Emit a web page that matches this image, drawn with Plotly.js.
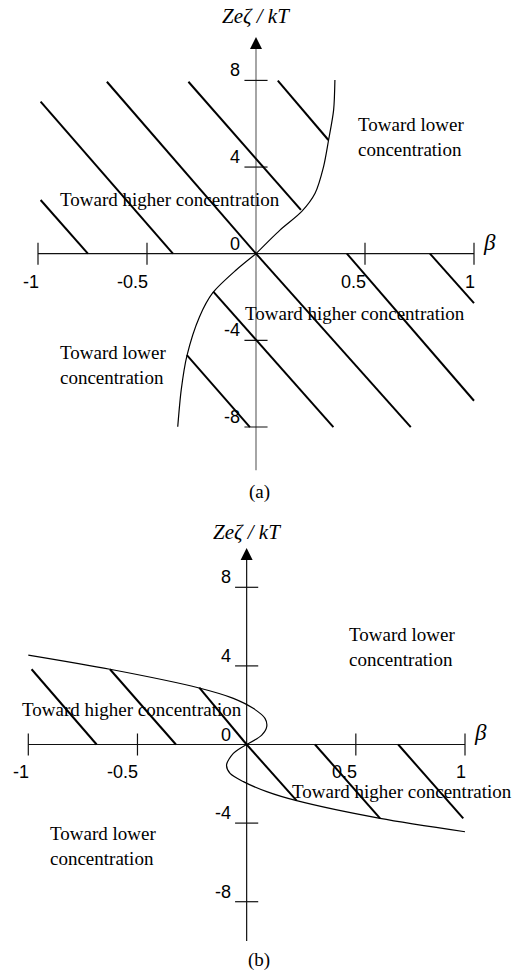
<!DOCTYPE html>
<html>
<head>
<meta charset="utf-8">
<script src="https://cdn.plot.ly/plotly-3.0.1.min.js"></script>
<style>
  html, body { margin: 0; padding: 0; background: #ffffff; }
  #chart { width: 514px; height: 975px; }
</style>
</head>
<body>
<div id="chart"></div>
<script>
// ---- Axis ticks and labels ----
const xTickVals = [-1, -0.5, 0.5, 1];
const xTickText = ['-1', '-0.5', '0.5', '1'];
const yTickVals = [8, 4, -4, -8];
const yLabelVals = [8, 4, 0, -4, -8];
const yLabelText = ['8', '4', '0', '-4', '-8'];

// ---- Panel (a): boundary curve (beta, Ze zeta / kT) ----
const curveAUpperBeta = [0, 0.110, 0.209, 0.271, 0.310, 0.333, 0.356, 0.362];
const curveAUpperZeta = [0, 1.09, 1.94, 2.79, 4.02, 5.25, 6.63, 8.02];
const curveALowerBeta = [0, -0.091, -0.198, -0.259, -0.317, -0.343, -0.359];
const curveALowerZeta = [0, -0.75, -1.80, -2.91, -4.72, -6.29, -7.99];

// ---- Panel (a): hatch segments (start -> end) ----
const hatchABeta0 = [-0.988, -0.988, -0.684, -0.310, 0.100, -0.317, -0.196, 0, 0.417, 0.798];
const hatchAZeta0 = [2.48, 7.02, 7.94, 7.94, 7.99, -4.68, -1.75, 0, 0, 0];
const hatchABeta1 = [-0.771, -0.381, 0, 0.206, 0.332, -0.028, 0.355, 0.710, 1.0, 1.0];
const hatchAZeta1 = [0, 0, 0, 2.02, 5.25, -8.01, -8.01, -8.01, -6.79, -2.28];

// ---- Panel (b): boundary curve ----
const curveBUpperBeta = [-1.0, -0.626, -0.222, -0.061, 0.030, 0.084, 0.092, 0.069, 0];
const curveBUpperZeta = [4.55, 3.83, 2.89, 2.35, 1.84, 1.33, 0.91, 0.48, 0];
const curveBLowerBeta = [0, -0.061, -0.092, -0.076, -0.015, 0.092, 0.229, 0.611, 1.0];
const curveBLowerZeta = [0, -0.45, -1.04, -1.47, -1.89, -2.40, -2.86, -3.76, -4.44];

// ---- Panel (b): hatch segments ----
const hatchBBeta0 = [-0.985, -0.626, -0.217, 0, 0.313, 0.694];
const hatchBZeta0 = [3.83, 3.83, 2.89, 0, 0, 0];
const hatchBBeta1 = [-0.687, -0.324, 0, 0.229, 0.611, 0.992];
const hatchBZeta1 = [0, 0, 0, -2.86, -3.76, -3.76];

// ---- Region labels ----
const regionText = ['Toward lower<br>concentration', 'Toward higher concentration',
                    'Toward higher concentration', 'Toward lower<br>concentration'];
const regionABeta = [0.460, -0.908, -0.058, -0.908];
const regionAZeta = [5.41, 2.48, -2.74, -5.12];
const regionBBeta = [0.459, -1.038, 0.200, -0.908];
const regionBZeta = [4.94, 1.76, -2.37, -5.14];

const axisTitle = '<i>Zeζ / kT</i>';
const betaTitle = '<i>β</i>';

const SERIF = 'Liberation Serif, Times New Roman, serif';
const SANS = 'Liberation Sans, Arial, sans-serif';

function segments(x0, y0, x1, y1) {
  const xs = [], ys = [];
  for (let i = 0; i < x0.length; i++) {
    xs.push(x0[i], x1[i], null);
    ys.push(y0[i], y1[i], null);
  }
  return { x: xs, y: ys };
}

function panel(xa, ya, o) {
  const traces = [];
  const ann = [];
  const xr = xa.replace('axis', ''), yr = ya.replace('axis', '');

  // horizontal (beta) axis
  traces.push({ x: [-1, 1], y: [0, 0], xaxis: xr, yaxis: yr, mode: 'lines',
    line: { color: '#111', width: 1.2 }, hoverinfo: 'skip' });
  // vertical axis
  traces.push({ x: [0, 0], y: [-10, 9.5], xaxis: xr, yaxis: yr, mode: 'lines',
    line: { color: o.yAxisColor, width: 1.2 }, hoverinfo: 'skip' });

  // tick marks crossing the axes
  const xt = segments(xTickVals, xTickVals.map(() => -o.tickZ),
                      xTickVals, xTickVals.map(() => o.tickZ));
  traces.push({ x: xt.x, y: xt.y, xaxis: xr, yaxis: yr, mode: 'lines',
    line: { color: '#111', width: 1.2 }, hoverinfo: 'skip' });
  const yt = segments(yTickVals.map(() => -o.tickB), yTickVals,
                      yTickVals.map(() => o.tickB), yTickVals);
  traces.push({ x: yt.x, y: yt.y, xaxis: xr, yaxis: yr, mode: 'lines',
    line: { color: '#111', width: 1.2 }, hoverinfo: 'skip' });

  // hatching
  const h = segments(o.hb0, o.hz0, o.hb1, o.hz1);
  traces.push({ x: h.x, y: h.y, xaxis: xr, yaxis: yr, mode: 'lines',
    line: { color: '#000', width: 2 }, hoverinfo: 'skip' });

  // boundary curve
  [[o.cub, o.cuz], [o.clb, o.clz]].forEach(([b, z]) => {
    traces.push({ x: b, y: z, xaxis: xr, yaxis: yr, mode: 'lines',
      line: { color: '#000', width: 1.2, shape: 'spline', smoothing: 0.8 }, hoverinfo: 'skip' });
  });

  // arrowhead on the vertical axis
  ann.push({ x: 0, y: 10, xref: xr, yref: yr, text: '', showarrow: true,
    ax: 0, ay: 12, arrowhead: 2, arrowsize: 2.4, arrowwidth: 1, arrowcolor: '#000', standoff: 0 });

  // tick labels
  xTickVals.forEach((v, i) => ann.push({ x: v, y: 0, xref: xr, yref: yr, text: xTickText[i],
    showarrow: false, xanchor: 'right', yanchor: 'middle', xshift: 3, yshift: -o.xLabelDrop,
    font: { family: SANS, size: 18, color: '#000' } }));
  yLabelVals.forEach((v, i) => ann.push({ x: 0, y: v, xref: xr, yref: yr, text: yLabelText[i],
    showarrow: false, xanchor: 'right', yanchor: 'middle', xshift: -14, yshift: 10,
    font: { family: SANS, size: 18, color: '#000' } }));

  // axis titles
  ann.push({ x: o.titleB, y: o.titleZ, xref: xr, yref: yr, text: axisTitle, showarrow: false,
    xanchor: 'center', yanchor: 'middle', font: { family: SERIF, size: 21, color: '#000' } });
  ann.push({ x: 1.073, y: o.betaZ, xref: xr, yref: yr, text: betaTitle, showarrow: false,
    xanchor: 'center', yanchor: 'middle', font: { family: SERIF, size: 23, color: '#000' } });

  // region labels
  regionText.forEach((t, i) => ann.push({ x: o.rb[i], y: o.rz[i], xref: xr, yref: yr, text: t,
    showarrow: false, xanchor: 'left', yanchor: 'middle', align: 'left',
    font: { family: SERIF, size: 19, color: '#000' } }));

  return { traces, ann };
}

const pa = panel('xaxis', 'yaxis', {
  yAxisColor: '#6a6a6a', tickZ: 0.51, tickB: 0.053, xLabelDrop: 28,
  titleB: 0.0, titleZ: 10.97, betaZ: 0.54,
  hb0: hatchABeta0, hz0: hatchAZeta0, hb1: hatchABeta1, hz1: hatchAZeta1,
  cub: curveAUpperBeta, cuz: curveAUpperZeta, clb: curveALowerBeta, clz: curveALowerZeta,
  rb: regionABeta, rz: regionAZeta
});
const pb = panel('xaxis2', 'yaxis2', {
  yAxisColor: '#111', tickZ: 0.56, tickB: 0.053, xLabelDrop: 27,
  titleB: 0.0, titleZ: 10.81, betaZ: 0.59,
  hb0: hatchBBeta0, hz0: hatchBZeta0, hb1: hatchBBeta1, hz1: hatchBZeta1,
  cub: curveBUpperBeta, cuz: curveBUpperZeta, clb: curveBLowerBeta, clz: curveBLowerZeta,
  rb: regionBBeta, rz: regionBZeta
});

const captions = [
  { x: 0.504, y: 0.4958, xref: 'paper', yref: 'paper', text: '(a)', showarrow: false,
    xanchor: 'center', yanchor: 'middle', font: { family: SERIF, size: 19, color: '#000' } },
  { x: 0.504, y: 0.0154, xref: 'paper', yref: 'paper', text: '(b)', showarrow: false,
    xanchor: 'center', yanchor: 'middle', font: { family: SERIF, size: 19, color: '#000' } }
];

const hidden = { visible: false, fixedrange: true, showgrid: false, zeroline: false };

const layout = {
  width: 514, height: 975,
  margin: { l: 0, r: 0, t: 0, b: 0, pad: 0 },
  paper_bgcolor: '#ffffff', plot_bgcolor: '#ffffff',
  showlegend: false,
  xaxis: Object.assign({ domain: [0, 1], range: [-1.1743, 1.1835], anchor: 'y' }, hidden),
  yaxis: Object.assign({ domain: [0.5, 1], range: [-10.794, 11.713], anchor: 'x' }, hidden),
  xaxis2: Object.assign({ domain: [0, 1], range: [-1.1296, 1.2244], anchor: 'y2' }, hidden),
  yaxis2: Object.assign({ domain: [0, 0.5], range: [-11.730, 13.079], anchor: 'x2' }, hidden),
  annotations: pa.ann.concat(pb.ann, captions)
};

Plotly.newPlot('chart', pa.traces.concat(pb.traces), layout,
  { staticPlot: true, displayModeBar: false });
</script>
</body>
</html>
